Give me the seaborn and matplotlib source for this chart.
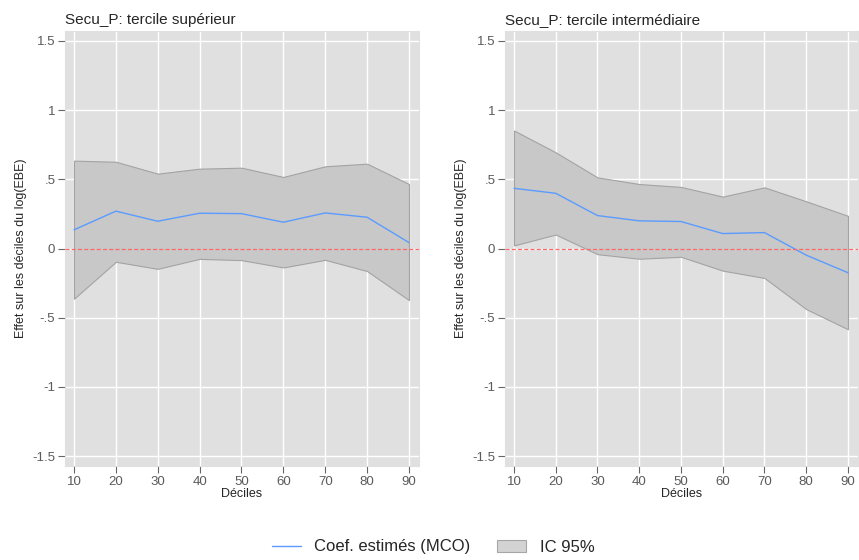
import seaborn as sns
import matplotlib.pyplot as plt
import pandas as pd
from matplotlib.lines import Line2D
from matplotlib.patches import Patch

# deciles on the x axis
deciles = [10, 20, 30, 40, 50, 60, 70, 80, 90]

# tercile superieur
coef_sup = [0.135, 0.27, 0.197, 0.255, 0.252, 0.19, 0.257, 0.226, 0.043]
haut_sup = [0.635, 0.627, 0.541, 0.577, 0.584, 0.517, 0.594, 0.613, 0.466]
bas_sup = [-0.363, -0.096, -0.147, -0.075, -0.084, -0.137, -0.082, -0.163, -0.373]

# tercile intermediaire
coef_int = [0.435, 0.399, 0.238, 0.2, 0.195, 0.108, 0.115, -0.048, -0.175]
haut_int = [0.853, 0.695, 0.514, 0.466, 0.445, 0.375, 0.442, 0.341, 0.236]
bas_int = [0.022, 0.101, -0.041, -0.074, -0.06, -0.16, -0.213, -0.438, -0.584]

titres = ["Secu_P: tercile supérieur", "Secu_P: tercile intermédiaire"]
yticks = [-1.5, -1, -0.5, 0, 0.5, 1, 1.5]
ylabels = ["-1.5", "-1", "-.5", "0", ".5", "1", "1.5"]

df = pd.concat([
    pd.DataFrame({"decile": deciles, "coef": coef_sup, "haut": haut_sup,
                  "bas": bas_sup, "panel": titres[0]}),
    pd.DataFrame({"decile": deciles, "coef": coef_int, "haut": haut_int,
                  "bas": bas_int, "panel": titres[1]}),
])

sns.set_style("darkgrid", {"axes.facecolor": "#e0e0e0", "grid.color": "white",
                           "axes.edgecolor": "#e0e0e0"})
plt.rcParams["font.family"] = ["Liberation Sans", "DejaVu Sans"]

fig = plt.figure(figsize=(8.59, 5.6), dpi=100)
ax1 = fig.add_axes([65 / 859, 94 / 560, 354 / 859, 435 / 560])
ax2 = fig.add_axes([505 / 859, 94 / 560, 353 / 859, 435 / 560])

for ax, titre in zip([ax1, ax2], titres):
    d = df[df["panel"] == titre]
    # bande IC 95%
    ax.fill_between(d["decile"], d["bas"], d["haut"], facecolor="#c8c8c8",
                    edgecolor="#a3a3a3", linewidth=0.8, zorder=2)
    sns.lineplot(data=d, x="decile", y="coef", ax=ax, color="#5b9bff",
                 linewidth=1.0, zorder=3)
    ax.axhline(0, color="#ff6666", linestyle=(0, (3.2, 1.8)), linewidth=0.9, zorder=4)
    ax.set_xlim(7.85, 92.4)
    ax.set_ylim(-1.572, 1.572)
    ax.set_xticks(deciles)
    ax.set_yticks(yticks)
    ax.set_yticklabels(ylabels)
    ax.grid(True, color="white", linewidth=1.0)
    ax.tick_params(axis="both", length=5, width=0.8, color="#666666",
                   labelcolor="#5a5a5a", labelsize=9.5, pad=2, bottom=True, left=True)
    ax.set_xlabel("Déciles", fontsize=9, labelpad=0)
    ax.set_ylabel("Effet sur les déciles du log(EBE)", fontsize=9, labelpad=4)
    ax.set_title(titre, loc="left", fontsize=11, pad=5)

handles = [Line2D([0], [0], color="#5b9bff", linewidth=1.0),
           Patch(facecolor="#d3d3d3", edgecolor="#a6a6a6", linewidth=0.8)]
fig.legend(handles, ["Coef. estimés (MCO)", "IC 95%"], loc="center",
           bbox_to_anchor=(433 / 859, 1 - 547 / 560), ncol=2, frameon=False,
           fontsize=12, handlelength=1.75, handletextpad=0.8, columnspacing=1.6)

fig.savefig("out.png", dpi=100)
